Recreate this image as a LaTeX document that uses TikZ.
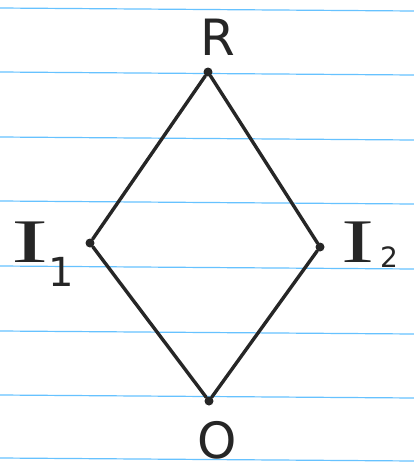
\documentclass[tikz,border=0pt]{standalone}
\usepackage{fontspec}
\setmainfont{DejaVu Sans}
\newfontfamily\serifI{Liberation Serif}
\tikzset{
  vdot/.style={circle,fill=black!85,inner sep=0pt,minimum size=9pt},
  edge/.style={draw=black!85,line width=3.4pt,line cap=round,line join=round},
  rule/.style={draw=blue!40!cyan!60,line width=1.2pt},
  lbl/.style={font=\fontsize{50}{54}\selectfont,text=black!85,inner sep=0pt,anchor=center},
  ilbl/.style={font=\fontsize{62}{66}\selectfont,text=black!85,inner sep=0pt,anchor=base west}
}
\begin{document}
\begin{tikzpicture}[x=1pt,y=-1pt]
\useasboundingbox (0,0) rectangle (414,472);
\fill[white] (0,0) rectangle (414,472);
\foreach \yy in {8,72,137,201,266,331,395,458}
  \draw[rule] (0,\yy) -- (414,\yy+3);
\node[vdot] (R) at (208,72) {};
\node[vdot] (I1) at (90,243) {};
\node[vdot] (I2) at (320,247) {};
\node[vdot] (O) at (209,401) {};
\draw[edge] (R) -- (I1) -- (O) -- (I2) -- (R);
\node[lbl] (lR) at (218,37) {R};
\node[ilbl] (lI1) at (11,262) {\scalebox{1.8}[1]{\serifI I}\kern0pt\raisebox{-24pt}{\fontsize{40}{44}\selectfont 1}};
\node[ilbl] (lI2) at (341,262) {\scalebox{1.6}[1]{\serifI I}\kern6pt\raisebox{-5pt}{\fontsize{28}{32}\selectfont 2}};
\node[lbl] (lO) at (217,440) {O};
\end{tikzpicture}
\end{document}
